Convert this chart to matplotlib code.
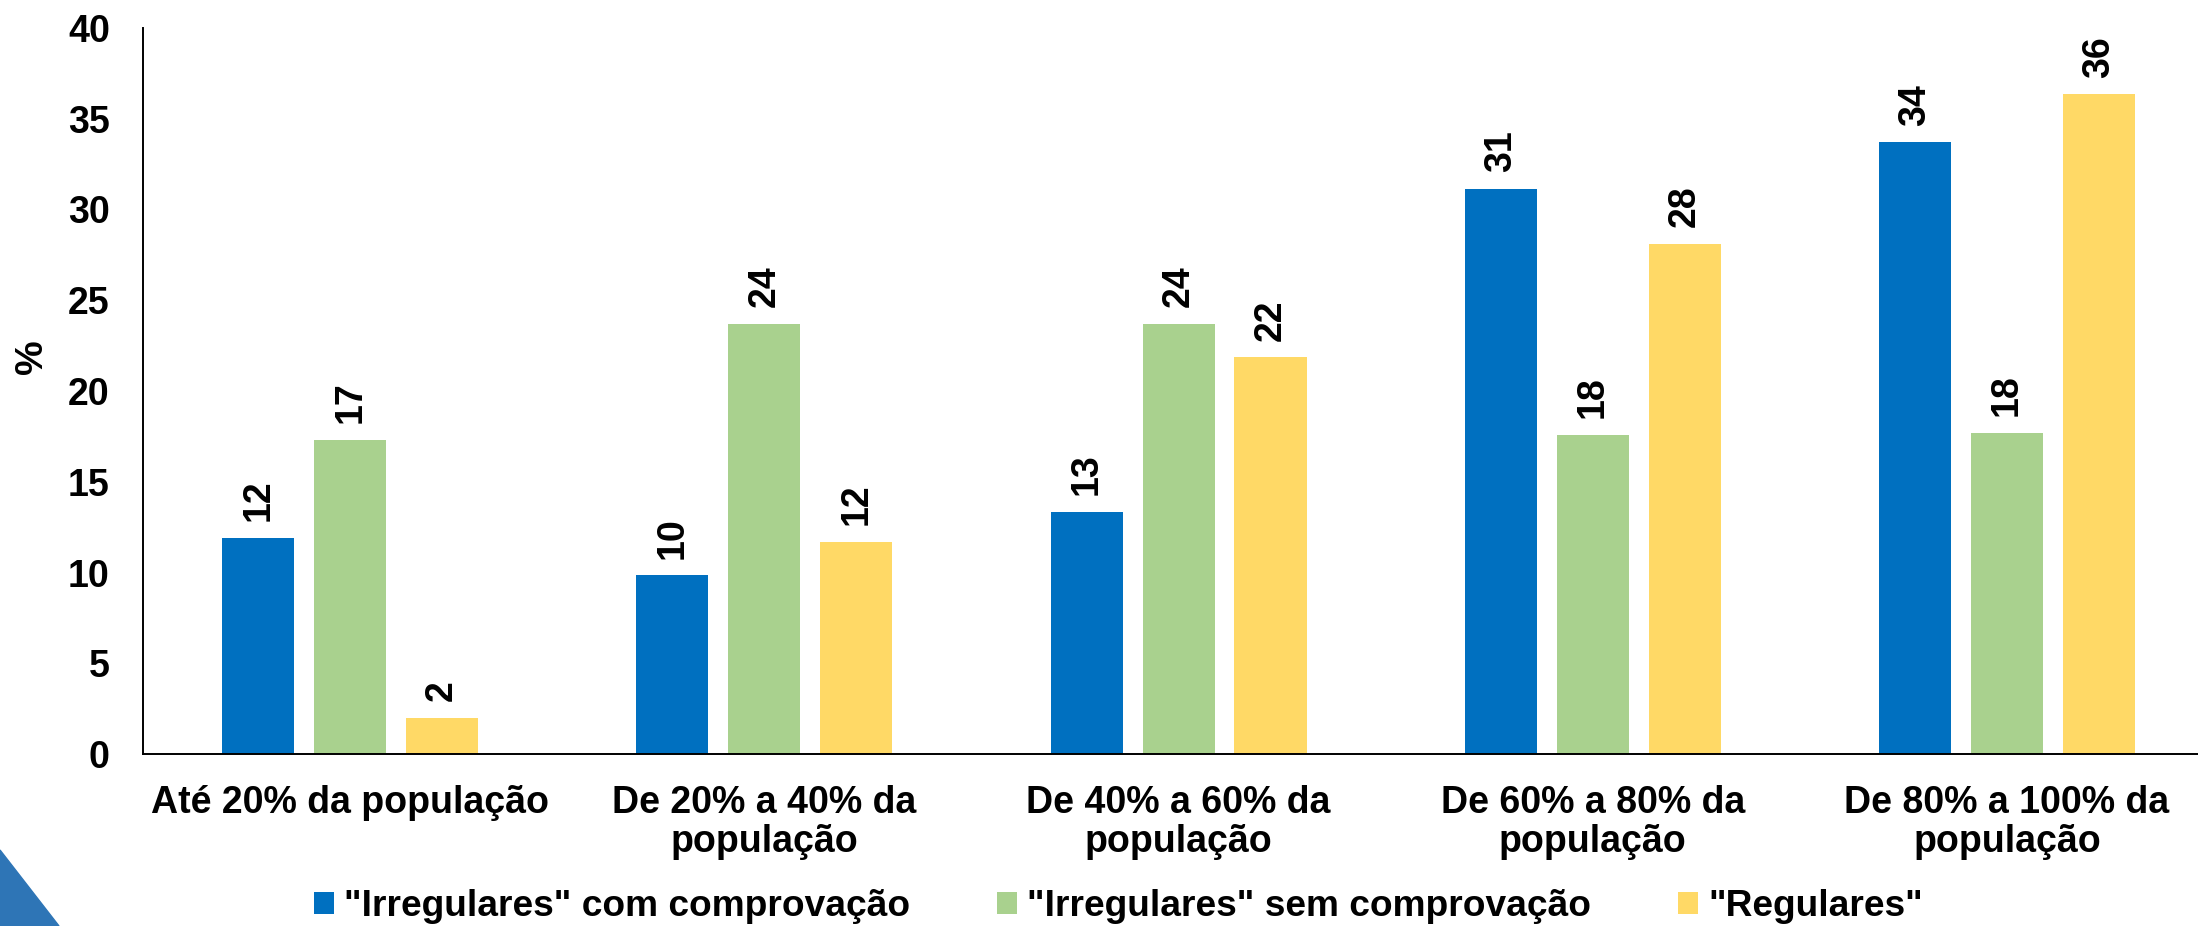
import matplotlib
matplotlib.use('Agg')
import matplotlib.pyplot as plt
from matplotlib.patches import Polygon
import numpy as np

plt.rcParams['font.family'] = ['Liberation Sans', 'DejaVu Sans']
plt.rcParams['font.weight'] = 'bold'

categorias = ["Até 20% da população",
              "De 20% a 40% da\npopulação",
              "De 40% a 60% da\npopulação",
              "De 60% a 80% da\npopulação",
              "De 80% a 100% da\npopulação"]

series = ['"Irregulares" com comprovação',
          '"Irregulares" sem comprovação',
          '"Regulares"']

irreg_com = [11.9, 9.85, 13.35, 31.15, 33.7]
irreg_sem = [17.3, 23.7, 23.7, 17.6, 17.7]
regulares = [2.0, 11.68, 21.86, 28.1, 36.35]

cores = ['#0070C0', '#A9D18E', '#FFD966']
yticks = [0, 5, 10, 15, 20, 25, 30, 35, 40]

fig = plt.figure(figsize=(21.98, 9.26), dpi=100)
ax = fig.add_axes([0.0651, 0.1857, 0.9422, 0.7841])

x = np.arange(len(categorias))
largura = 0.174
passo = 0.222

for i, (vals, nome, cor) in enumerate(zip([irreg_com, irreg_sem, regulares], series, cores)):
    barras = ax.bar(x + (i - 1) * passo, vals, largura, color=cor, label=nome)
    ax.bar_label(barras, fmt='%.0f', rotation=90, padding=12,
                 fontsize=27, fontweight='bold')

ax.set_xlim(-0.5, 4.5)
ax.set_ylim(0, 40)
ax.set_yticks(yticks)
ax.set_xticks(x)
ax.set_xticklabels(categorias, linespacing=1.13)
ax.tick_params(axis='both', length=0, labelsize=27)
ax.tick_params(axis='y', pad=24)
ax.tick_params(axis='x', pad=22)

ax.spines['top'].set_visible(False)
ax.spines['right'].set_visible(False)
ax.spines['left'].set_linewidth(1.4)
ax.spines['bottom'].set_linewidth(1.4)

ax.set_ylabel('%', fontsize=28, fontweight='bold')
ax.yaxis.set_label_coords(-0.045, 0.547)

fig.legend(loc='center', bbox_to_anchor=(0.5089, 0.021), ncol=3, frameon=False,
           fontsize=26.7, handlelength=0.53, handleheight=0.53,
           handletextpad=0.28, columnspacing=2.35, borderpad=0)

# triangulo azul no canto
tri = Polygon([[0, 0], [0, 76 / 926], [59 / 2198, 0]], closed=True,
              transform=fig.transFigure, color='#2E75B6')
fig.patches.append(tri)

plt.savefig("out.png", dpi=100)
